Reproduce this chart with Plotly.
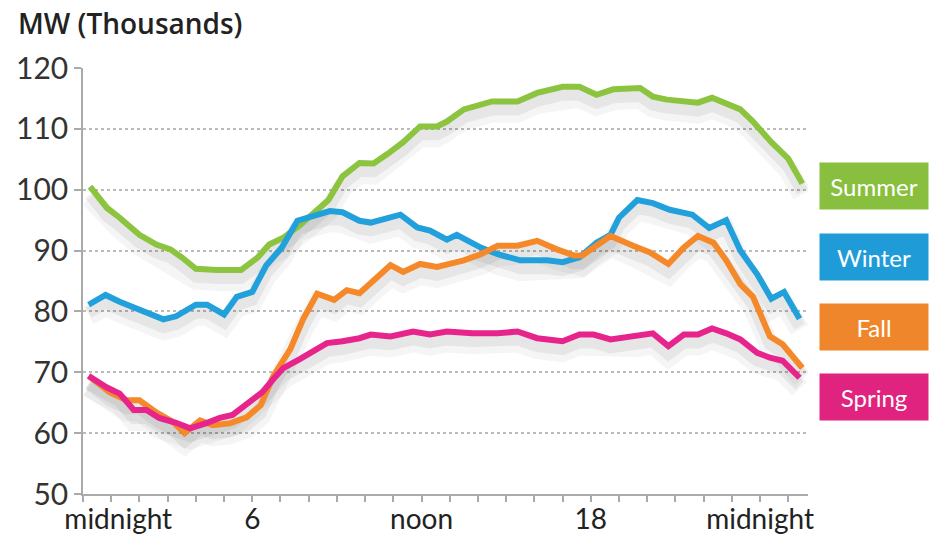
import plotly.graph_objects as go

# hours of day (x) and load in MW thousands (y)
summer_h = [0.25,0.85,1.3,2.0,2.6,3.1,3.5,4.0,4.75,5.6,6.2,6.6,7.1,7.7,8.7,9.2,9.8,10.3,10.8,11.35,11.95,12.55,12.9,13.5,14.5,15.4,16.1,17.0,17.6,18.2,18.8,19.75,20.2,20.7,21.8,22.3,23.3,23.75,24.4,25.0,25.5]
summer_v = [100.5,97,95.4,92.6,91.0,90.2,88.9,87.0,86.8,86.8,88.9,91.0,92.1,94.2,98.3,102.2,104.4,104.3,105.9,107.8,110.4,110.4,111.2,113.2,114.5,114.5,115.9,116.9,116.9,115.6,116.5,116.7,115.3,114.8,114.3,115.1,113.2,111.2,107.8,105.1,101.0]

winter_h = [0.2,0.8,1.3,2.0,2.85,3.3,4.0,4.4,5.0,5.45,6.0,6.5,7.05,7.6,8.15,8.75,9.2,9.8,10.2,11.25,11.85,12.3,12.9,13.25,14.1,14.7,15.5,16.45,17.0,17.6,18.2,18.7,19.0,19.65,20.2,20.8,21.6,22.2,22.8,23.3,23.9,24.4,24.85,25.4]
winter_v = [81.1,82.7,81.6,80.3,78.7,79.2,81.1,81.1,79.5,82.4,83.2,87.6,90.5,94.9,95.7,96.5,96.3,94.9,94.6,95.9,93.8,93.3,91.8,92.6,90.5,89.4,88.4,88.4,88.1,88.9,91.3,92.6,95.4,98.3,97.8,96.7,95.9,93.7,95.0,90.0,86.1,82.1,83.2,78.8]

fall_h = [0.2,0.95,1.55,2.0,2.6,3.2,3.6,4.15,4.6,5.2,5.8,6.3,6.75,7.35,7.8,8.3,8.9,9.35,9.8,10.3,10.9,11.35,11.95,12.55,13.5,14.1,14.7,15.4,16.1,16.8,17.4,17.7,18.2,18.7,19.5,20.1,20.75,21.3,21.8,22.35,22.8,23.3,23.75,24.35,24.8,25.5]
fall_v = [69.4,66.7,65.4,65.4,63.4,61.8,60.0,62.1,61.3,61.6,62.6,64.6,69.4,73.8,78.7,82.9,81.9,83.5,83.0,85.1,87.6,86.5,87.8,87.3,88.4,89.4,90.8,90.8,91.6,90.2,89.2,89.2,90.8,92.4,90.8,89.7,87.8,90.5,92.4,91.3,88.4,84.5,82.4,75.9,74.6,70.7]

spring_h = [0.2,0.85,1.3,1.8,2.25,2.7,3.3,3.8,4.4,4.85,5.3,5.8,6.35,6.75,7.1,7.7,8.65,9.2,9.8,10.2,10.9,11.7,12.3,12.9,13.8,14.7,15.4,16.1,17.0,17.6,18.1,18.7,19.65,20.2,20.75,21.3,21.8,22.3,22.8,23.3,23.9,24.35,24.8,25.4]
spring_v = [69.4,67.5,66.5,63.8,63.8,62.5,61.7,60.8,61.7,62.5,63.0,64.9,66.7,68.9,70.7,72.2,74.8,75.1,75.6,76.2,75.9,76.7,76.2,76.7,76.4,76.4,76.7,75.6,75.1,76.2,76.2,75.4,75.9,76.4,74.3,76.2,76.2,77.2,76.4,75.4,73.2,72.4,71.9,69.1]

series_names = ["Summer", "Winter", "Fall", "Spring"]
series_colors = ["#8cc43f", "#22a0db", "#f5892a", "#e6248c"]
box_colors = ["#88bf3e", "#1f9cd8", "#f0862b", "#e0237f"]
series_h = [summer_h, winter_h, fall_h, spring_h]
series_v = [summer_v, winter_v, fall_v, spring_v]
label_y = [100.6, 89.0, 77.5, 65.9]

x_tickvals = [1.25, 6, 12, 18, 24]
x_ticktext = ["midnight", "6", "noon", "18", "midnight"]
y_ticks = [50, 60, 70, 80, 90, 100, 110, 120]

fig = go.Figure()

# soft drop shadows
for h, v in zip(series_h, series_v):
    for w, a, off in [(20, 0.04, 1.8), (12, 0.06, 1.3)]:
        fig.add_trace(go.Scatter(x=h, y=[val - off for val in v], mode="lines",
                                 line=dict(color=f"rgba(0,0,0,{a})", width=w),
                                 hoverinfo="skip", showlegend=False))

for name, h, v, c in zip(series_names, series_h, series_v, series_colors):
    fig.add_trace(go.Scatter(x=h, y=v, mode="lines", name=name,
                             line=dict(color=c, width=6), showlegend=False))

for name, ly, bc in zip(series_names, label_y, box_colors):
    fig.add_annotation(xref="paper", yref="y", x=1.0152, y=ly, xanchor="left", yanchor="middle",
                       text=name, showarrow=False, bgcolor=bc, width=104, height=42,
                       borderpad=2, font=dict(family="Lato", size=24, color="white"))

fig.add_annotation(xref="paper", yref="paper", x=-0.093, y=1.105, xanchor="left", yanchor="middle",
                   text="MW (Thousands)", showarrow=False,
                   font=dict(family="Open Sans", size=28, color="#222", weight=600))

fig.update_xaxes(range=[0, 25.7], tickvals=x_tickvals, ticktext=x_ticktext, ticks="",
                 showgrid=False, zeroline=False, showline=True, linecolor="#aaaaaa", linewidth=1.5,
                 tickfont=dict(family="Lato", size=28, color="#222"),
                 minor=dict(ticks="outside", ticklen=6, tickcolor="#aaaaaa", tickwidth=1.5,
                            dtick=1, tick0=0, showgrid=False))
fig.update_yaxes(range=[50, 120], tickvals=y_ticks, ticks="outside", ticklen=7, tickcolor="#aaaaaa",
                 tickwidth=1.5, showline=True, linecolor="#aaaaaa", linewidth=1.5, zeroline=False,
                 showgrid=True, gridcolor="#bbbbbb", griddash="dot", gridwidth=1.5,
                 tickfont=dict(family="Lato", size=30, color="#333"))

fig.update_layout(width=938, height=547, margin=dict(l=83, r=130, t=68, b=46),
                  plot_bgcolor="white", paper_bgcolor="white")

fig.write_html("out.html")
